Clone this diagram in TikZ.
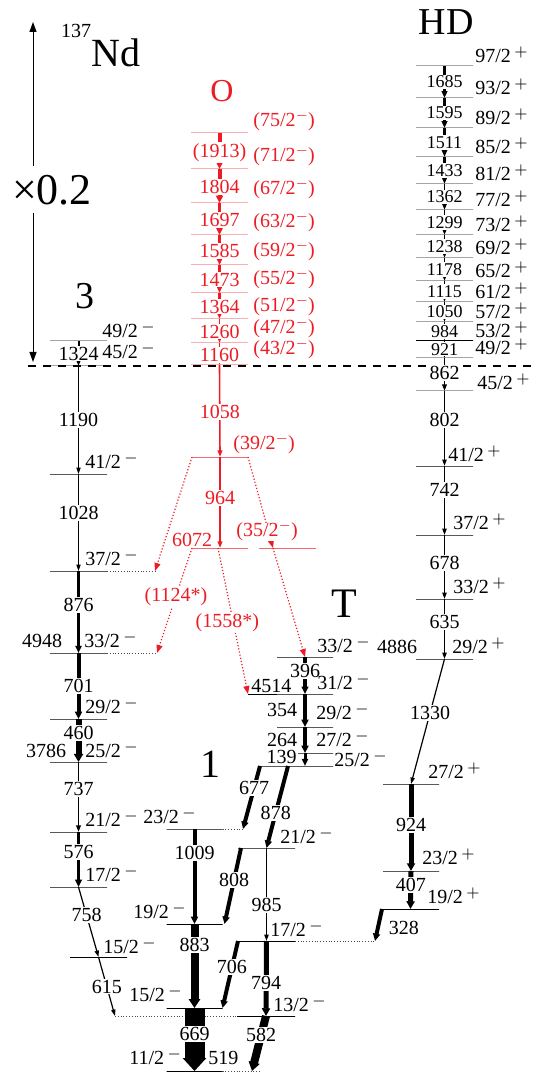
\documentclass[tikz,border=0pt]{standalone}
\usepackage{fontspec}
\setmainfont{Liberation Serif}
\usepackage{tikz}
\usetikzlibrary{arrows.meta}
\definecolor{bandred}{RGB}{237, 28, 36}
\newcommand{\spinm}[1]{#1\,\raisebox{3pt}[0pt][0pt]{\footnotesize$-$}}
\newcommand{\spinp}[1]{#1\,\raisebox{3pt}[0pt][0pt]{\footnotesize$+$}}
\newcommand{\spino}[1]{(#1\raisebox{3.5pt}[0pt][0pt]{\scriptsize$-$})}

\begin{document}
\begin{tikzpicture}[x=0.5pt, y=-0.5pt,
    every node/.style={font=\fontsize{10}{12}\selectfont},
    lvl/.style={draw, line width=0.5pt, line join=bevel, minimum width=#1, minimum height=0pt, inner sep=0pt, outer sep=0pt},
    lvl/.default=28.5pt,
    tr/.style={line width=#1, -{Triangle[length=3pt 0.35, width=1.5pt 1]}},
    tr/.default=0.6pt,
    elab/.style={fill=white, inner sep=0.6pt},
    hdlab/.style={elab, font=\fontsize{9}{11}\selectfont},
    slab/.style={anchor=west, inner sep=0pt},
    ext/.style={black!70, line width=0.4pt, densely dotted},
    rtr/.style={bandred, line width=0.6pt, densely dotted, -{Triangle[length=4pt, width=3pt]}}]
    \useasboundingbox (0,0) rectangle (535,1074);

    % titles
    \node (mass) at (76,31) {137};
    \node[font=\fontsize{20}{24}\selectfont] (nd) at (116,53) {Nd};
    \node[font=\fontsize{22}{26}\selectfont] (scl) at (52,190) {×0.2};
    \node[font=\fontsize{16}{20}\selectfont, bandred] (bandO) at (222,91) {O};
    \node[font=\fontsize{19}{22}\selectfont] (bandHD) at (446,22) {HD};
    \node[font=\fontsize{19}{22}\selectfont] (band3) at (85,296) {3};
    \node[font=\fontsize{21}{24}\selectfont] (bandT) at (344,604) {T};
    \node[font=\fontsize{20}{24}\selectfont] (band1) at (210,764) {1};

    \coordinate (scA) at (33,166);
    \coordinate (scTop) at (33,22);
    \coordinate (scB) at (33,213);
    \coordinate (scBot) at (33,362);
    \draw[line width=0.5pt, -{Triangle[length=5pt, width=3.5pt]}] (scA) -- (scTop);
    \draw[line width=0.5pt, -{Triangle[length=5pt, width=3.5pt]}] (scB) -- (scBot);

    \coordinate (dashL) at (28,366);
    \coordinate (dashR) at (535,366);
    \draw[line width=1.3pt, dash pattern=on 4pt off 3.5pt] (dashL) -- (dashR);

    % band 3
    \node[lvl] (b3l49) at (78.5,341) {};
    \node[lvl] (b3l45) at (78.5,366) {};
    \node[lvl] (b3l41) at (78.5,474) {};
    \node[lvl] (b3l37) at (78.5,571) {};
    \node[lvl] (b3l33) at (78.5,653) {};
    \node[lvl] (b3l29) at (78.5,719) {};
    \node[lvl] (b3l25) at (78.5,762) {};
    \node[lvl] (b3l21) at (78.5,832) {};
    \node[lvl] (b3l17) at (78.5,887) {};
    \node[lvl] (b3l15) at (98.5,957) {};
    \coordinate (c37) at (155,571);
    \coordinate (c33) at (157,653);
    \draw[ext] (b3l37.east) -- (c37);
    \draw[ext] (b3l33.east) -- (c33);

    % band 1
    \node[lvl=28pt] (b1l23) at (194.5,829) {};
    \node[lvl=28pt] (b1l19) at (194.5,924) {};
    \node[lvl=28pt] (b1l15) at (194.5,1008) {};
    \node[lvl=28pt] (b1l11) at (194.5,1071) {};
    \node[lvl] (b1l21) at (266.5,848) {};
    \node[lvl] (b1l17) at (266.5,941) {};
    \node[lvl=29pt] (b1l13) at (266,1016) {};
    \coordinate (c23) at (243,829);
    \coordinate (c17) at (375,941);
    \coordinate (c13) at (115,1016);
    \coordinate (c11) at (260,1071);
    \draw[ext] (b1l23.east) -- (c23);
    \draw[ext] (b1l17.east) -- (c17);
    \draw[ext] (c13) -- (b1l13.west);
    \draw[ext] (b1l11.east) -- (c11);

    % band T
    \node[lvl=28pt] (t33) at (305,657) {};
    \node[lvl=28pt] (t31) at (305,694) {};
    \node[lvl=28pt] (t29) at (305,727) {};
    \node[lvl=28pt] (t27) at (305,753) {};
    \node[lvl=36.5pt] (t25) at (296.5,766) {};
    \coordinate (c31) at (248,694);
    \draw[line width=0.5pt] (t31.west) -- (c31);

    % band O
    \node[lvl, bandred] (o75) at (219.5,133) {};
    \node[lvl, bandred] (o71) at (219.5,169) {};
    \node[lvl, bandred] (o67) at (219.5,203) {};
    \node[lvl, bandred] (o63) at (219.5,235) {};
    \node[lvl, bandred] (o59) at (219.5,265) {};
    \node[lvl, bandred] (o55) at (219.5,293) {};
    \node[lvl, bandred] (o51) at (219.5,319) {};
    \node[lvl, bandred] (o47) at (219.5,343) {};
    \node[lvl, bandred] (o43) at (219.5,365) {};
    \node[lvl=28pt, bandred] (o39) at (220,457) {};
    \node[lvl=28pt, bandred] (o6072) at (220,548) {};
    \node[lvl, bandred] (o35) at (287.5,548) {};

    % band HD
    \node[lvl] (h97) at (444.5,66) {};
    \node[lvl] (h93) at (444.5,98) {};
    \node[lvl] (h89) at (444.5,128) {};
    \node[lvl] (h85) at (444.5,157) {};
    \node[lvl] (h81) at (444.5,184) {};
    \node[lvl] (h77) at (444.5,210) {};
    \node[lvl] (h73) at (444.5,235) {};
    \node[lvl] (h69) at (444.5,258) {};
    \node[lvl] (h65) at (444.5,281) {};
    \node[lvl] (h61) at (444.5,302) {};
    \node[lvl] (h57) at (444.5,322) {};
    \node[lvl] (h53) at (444.5,340.5) {};
    \node[lvl] (h49) at (444.5,358) {};
    \node[lvl] (h45) at (444.5,391) {};
    \node[lvl] (h41) at (444.5,466) {};
    \node[lvl] (h37) at (444.5,535) {};
    \node[lvl] (h33) at (444.5,599) {};
    \node[lvl] (h29) at (444.5,659) {};
    \node[lvl=28pt] (h27) at (411,784) {};
    \node[lvl=28pt] (h23) at (411,871) {};
    \node[lvl] (h19) at (410.5,909) {};

    % transitions, band 3
    \draw[tr=1pt] (b3l49.center) -- node[elab] {1324} (b3l45.center);
    \draw[tr] (b3l45.center) -- node[elab] {1190} (b3l41.center);
    \draw[tr] (b3l41.center) -- node[elab, pos=.4] {1028} (b3l37.center);
    \draw[tr=1.5pt] (b3l37.center) -- node[elab, pos=.41] {876} (b3l33.center);
    \draw[tr=2pt] (b3l33.center) -- node[elab] {701} (b3l29.center);
    \draw[tr=3pt] (b3l29.center) -- node[elab, pos=.33] {460} (b3l25.center);
    \draw[tr=0.8pt] (b3l25.center) -- node[elab, pos=.39] {737} (b3l21.center);
    \draw[tr=1.8pt] (b3l21.center) -- node[elab, pos=.36] {576} (b3l17.center);
    \draw[tr] (b3l17.center) -- node[elab, pos=.4] {758} (b3l15.center);
    \draw[tr] (b3l15.center) -- node[elab] {615} (c13);

    % transitions, band 1
    \draw[tr=2pt] (b1l23.center) -- node[elab, pos=.25] {1009} (b1l19.center);
    \draw[tr=4pt] (b1l19.center) -- node[elab, pos=.25] {883} (b1l15.center);
    \draw[tr=10pt] (b1l15.center) -- node[elab, pos=.41] {669} (b1l11.center);
    \draw[tr=2pt] (t25.west) -- node[elab, pos=.35] {677} (c23);
    \draw[tr=2pt] ([xshift=-4.25pt]t25.center) -- node[elab, pos=.57] {878} (b1l21.center);
    \draw[tr=2pt] ([xshift=1.5pt]b1l21.west) -- node[elab, pos=.42] {808} ([xshift=1pt]b1l19.east);
    \draw[tr=0.7pt] (b1l21.center) -- node[elab, pos=.61] {985} (b1l17.center);
    \draw[tr=2pt] (b1l17.west) -- node[elab, pos=.39] {706} (b1l15.east);
    \draw[tr=2.5pt] (b1l17.center) -- node[elab, pos=.56] {794} (b1l13.center);
    \draw[tr=4pt] (b1l13.center) -- node[elab, pos=.35] {582} ([xshift=-4pt]c11);

    % transitions, band T
    \draw[tr=1.8pt] (t33.center) -- node[elab, pos=.38] {396} (t31.center);
    \draw[tr=2pt] (t31.center) -- node[pos=.48, anchor=east, xshift=-3pt, inner sep=0pt] {354} (t29.center);
    \draw[tr=2pt] (t29.center) -- node[pos=.5, anchor=east, xshift=-3pt, inner sep=0pt] {264} (t27.center);
    \draw[tr=1.5pt] (t27.center) -- node[pos=.3, anchor=east, xshift=-3pt, fill=white, inner sep=0.5pt] {139} ([xshift=4.25pt]t25.center);

    % transitions, band O
    \draw[tr=2pt, bandred] (o75.center) -- node[elab, pos=.54] {(1913)} (o71.center);
    \draw[tr=2pt, bandred] (o71.center) -- node[elab, pos=.52] {1804} (o67.center);
    \draw[tr=1.8pt, bandred] (o67.center) -- node[elab, pos=.52] {1697} (o63.center);
    \draw[tr=1.6pt, bandred] (o63.center) -- node[elab, pos=.52] {1585} (o59.center);
    \draw[tr=1.3pt, bandred] (o59.center) -- node[elab, pos=.52] {1473} (o55.center);
    \draw[tr=1.1pt, bandred] (o55.center) -- node[elab, pos=.52] {1364} (o51.center);
    \draw[tr=0.9pt, bandred] (o51.center) -- node[elab, pos=.52] {1260} (o47.center);
    \draw[tr=0.8pt, bandred] (o47.center) -- node[elab, pos=.55] {1160} (o43.center);
    \draw[tr=0.8pt, bandred] (o43.center) -- node[elab, pos=.51] {1058} (o39.center);
    \draw[tr=0.8pt, bandred] (o39.center) -- node[elab, pos=.45] {964} (o6072.center);
    \draw[rtr] (o39.west) -- (c37);
    \draw[rtr] (o39.east) -- ([xshift=-7.25pt]o35.center);
    \draw[rtr] ([xshift=-7.25pt]o35.center) -- (t33.center);
    \draw[rtr] (o6072.west) -- node[elab, pos=.46] {(1124*)} (c33);
    \draw[rtr] ([xshift=-1pt]o6072.center) -- node[elab, pos=.51, xshift=-3pt] {(1558*)} (c31);

    % transitions, band HD
    \draw[tr=1.4pt] (h97.center) -- node[hdlab] {1685} (h93.center);
    \draw[tr=1.4pt] (h93.center) -- node[hdlab] {1595} (h89.center);
    \draw[tr=1.1pt] (h89.center) -- node[hdlab] {1511} (h85.center);
    \draw[tr=1.1pt] (h85.center) -- node[hdlab] {1433} (h81.center);
    \draw[tr=0.9pt] (h81.center) -- node[hdlab] {1362} (h77.center);
    \draw[tr=0.9pt] (h77.center) -- node[hdlab] {1299} (h73.center);
    \draw[tr=0.8pt] (h73.center) -- node[hdlab] {1238} (h69.center);
    \draw[tr=0.8pt] (h69.center) -- node[hdlab] {1178} (h65.center);
    \draw[tr=0.7pt] (h65.center) -- node[hdlab] {1115} (h61.center);
    \draw[tr=0.7pt] (h61.center) -- node[hdlab] {1050} (h57.center);
    \draw[tr=0.7pt] (h57.center) -- node[hdlab] {984} (h53.center);
    \draw[tr=0.7pt] (h53.center) -- node[hdlab] {921} (h49.center);
    \draw[tr=0.8pt] (h49.center) -- node[elab, pos=.45] {862} (h45.center);
    \draw[tr=0.7pt] (h45.center) -- node[elab, pos=.39] {802} (h41.center);
    \draw[tr=0.7pt] (h41.center) -- node[elab, pos=.35] {742} (h37.center);
    \draw[tr=0.7pt] (h37.center) -- node[elab, pos=.44] {678} (h33.center);
    \draw[tr=0.7pt] (h33.center) -- node[elab, pos=.38] {635} (h29.center);
    \draw[tr] (h29.center) -- node[elab, pos=.43] {1330} (h27.center);
    \draw[tr=2.5pt] (h27.center) -- node[elab, pos=.47] {924} (h23.center);
    \draw[tr=2.5pt] (h23.center) -- node[elab, pos=.37] {407} (h19.center);
    \draw[tr=2pt] (h19.west) -- node[pos=.6, anchor=west, xshift=4.5pt, inner sep=0pt] {328} (c17);

    % spins, band 3
    \node[slab] (s3l49) at (102,331) {\spinm{49/2}};
    \node[slab] (s3l45) at (102,352) {\spinm{45/2}};
    \node[slab] (s3l41) at (85,462) {\spinm{41/2}};
    \node[slab] (s3l37) at (85,559) {\spinm{37/2}};
    \node[slab] (s3l33) at (84,641) {\spinm{33/2}};
    \node[slab] (s3l29) at (85,707) {\spinm{29/2}};
    \node[slab] (s3l25) at (85,751) {\spinm{25/2}};
    \node[slab] (s3l21) at (85,820) {\spinm{21/2}};
    \node[slab] (s3l17) at (85,875) {\spinm{17/2}};
    \node[slab] (s3l15) at (103,947) {\spinm{15/2}};
    % spins, band 1
    \node[slab] (s1l23) at (143,817) {\spinm{23/2}};
    \node[slab] (s1l19) at (133,912) {\spinm{19/2}};
    \node[slab] (s1l15) at (129,995) {\spinm{15/2}};
    \node[slab] (s1l11) at (129,1058) {\spinm{11/2}};
    \node[slab] (s1l21) at (280,837) {\spinm{21/2}};
    \node[slab] (s1l17) at (270,930) {\spinm{17/2}};
    \node[slab] (s1l13) at (273,1005) {\spinm{13/2}};
    % spins, band T
    \node[slab] (st33) at (317,646) {\spinm{33/2}};
    \node[slab] (st31) at (317,683) {\spinm{31/2}};
    \node[slab] (st29) at (316,713) {\spinm{29/2}};
    \node[slab] (st27) at (316,740) {\spinm{27/2}};
    \node[slab] (st25) at (334,760) {\spinm{25/2}};
    % spins, band O
    \node[slab, bandred] (so75) at (253,122) {\spino{75/2}};
    \node[slab, bandred] (so71) at (253,157) {\spino{71/2}};
    \node[slab, bandred] (so67) at (253,190) {\spino{67/2}};
    \node[slab, bandred] (so63) at (253,223) {\spino{63/2}};
    \node[slab, bandred] (so59) at (253,252) {\spino{59/2}};
    \node[slab, bandred] (so55) at (253,280) {\spino{55/2}};
    \node[slab, bandred] (so51) at (253,307) {\spino{51/2}};
    \node[slab, bandred] (so47) at (253,329) {\spino{47/2}};
    \node[slab, bandred] (so43) at (253,350) {\spino{43/2}};
    \node[slab, bandred] (so39) at (233,445) {\spino{39/2}};
    \node[slab, bandred, fill=white] (so35) at (236,532) {\spino{35/2}};
    % spins, band HD
    \node[slab] (sh97) at (475,56) {\spinp{97/2}};
    \node[slab] (sh93) at (475,88) {\spinp{93/2}};
    \node[slab] (sh89) at (475,118) {\spinp{89/2}};
    \node[slab] (sh85) at (475,147) {\spinp{85/2}};
    \node[slab] (sh81) at (475,174) {\spinp{81/2}};
    \node[slab] (sh77) at (475,200) {\spinp{77/2}};
    \node[slab] (sh73) at (475,225) {\spinp{73/2}};
    \node[slab] (sh69) at (475,248) {\spinp{69/2}};
    \node[slab] (sh65) at (475,271) {\spinp{65/2}};
    \node[slab] (sh61) at (475,292) {\spinp{61/2}};
    \node[slab] (sh57) at (475,312) {\spinp{57/2}};
    \node[slab] (sh53) at (475,331) {\spinp{53/2}};
    \node[slab] (sh49) at (475,348) {\spinp{49/2}};
    \node[slab] (sh45) at (477,383) {\spinp{45/2}};
    \node[slab] (sh41) at (448,455) {\spinp{41/2}};
    \node[slab] (sh37) at (453,523) {\spinp{37/2}};
    \node[slab] (sh33) at (453,587) {\spinp{33/2}};
    \node[slab] (sh29) at (452,647) {\spinp{29/2}};
    \node[slab] (sh27) at (428,772) {\spinp{27/2}};
    \node[slab] (sh23) at (422,858) {\spinp{23/2}};
    \node[slab] (sh19) at (427,897) {\spinp{19/2}};

    % level energies
    \node (e4948) at (42,641) {4948};
    \node (e3786) at (46,751) {3786};
    \node[anchor=west, inner sep=0pt] (e4514) at (251,686) {4514};
    \node (e4886) at (397,647) {4886};
    \node[bandred] (e6072) at (192,540) {6072};
    \node[anchor=west, inner sep=0pt] (e519) at (208,1058) {519};
\end{tikzpicture}
\end{document}
